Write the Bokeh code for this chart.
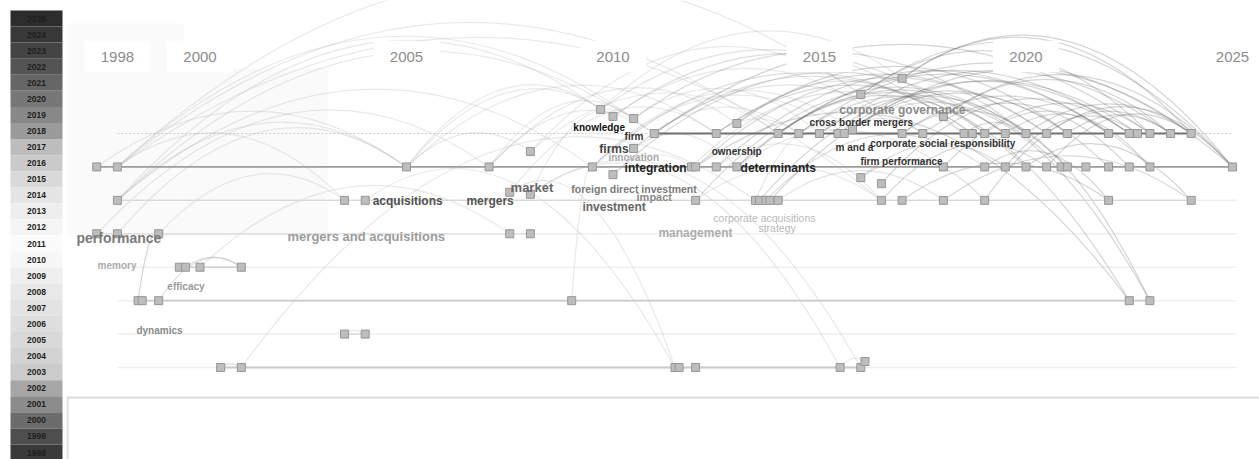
import numpy as np
from bokeh.plotting import figure
from bokeh.layouts import row
from bokeh.models import Range1d, ColumnDataSource
from bokeh.embed import file_html
from bokeh.resources import INLINE
from bokeh.core.properties import value

# ---------------- data ----------------
legend_years = list(range(2025, 1997, -1))
legend_greys = ["#2d2d2d", "#383838", "#444444", "#545454", "#666666", "#777777",
                "#888888", "#9a9a9a", "#bdbdbd", "#cacaca", "#d9d9d9", "#e5e5e5",
                "#eeeeee", "#f5f5f5", "#fbfbfb", "#f7f7f7", "#efefef", "#e8e8e8",
                "#e3e3e3", "#dedede", "#d9d9d9", "#d3d3d3", "#cbcbcb", "#a6a6a6",
                "#8c8c8c", "#6c6c6c", "#4e4e4e", "#3a3a3a"]
axis_years = [1998, 2000, 2005, 2010, 2015, 2020, 2025]

# node years per timeline row (cluster)
years_A = [2011.0, 2012.5, 2014.0, 2014.5, 2015.0, 2015.45, 2015.6, 2017.0, 2017.5,
           2018.5, 2018.7, 2019.0, 2019.5, 2020.0, 2020.5, 2021.0, 2022.0, 2022.5,
           2022.7, 2023.0, 2023.5, 2024.0]
years_B = [1997.5, 1998.0, 2005.0, 2007.0, 2009.5, 2011.9, 2012.0, 2012.5, 2013.0,
           2018.0, 2019.0, 2019.5, 2020.0, 2020.5, 2020.85, 2021.0, 2021.45, 2022.0,
           2022.5, 2023.0, 2025.0]
years_C = [1998.0, 2003.5, 2004.0, 2012.0, 2013.45, 2013.55, 2013.7, 2013.8, 2014.0,
           2016.5, 2017.0, 2018.0, 2019.0, 2022.0, 2024.0]
years_D = [1997.5, 1998.0, 1999.0, 2007.5, 2008.0]
years_E = [1999.5, 1999.65, 2000.0, 2001.0]
years_F = [1998.5, 1998.6, 1999.0, 2009.0, 2022.5, 2023.0]
years_G = [2003.5, 2004.0]
years_H = [2000.5, 2001.0, 2011.5, 2011.6, 2012.0, 2015.5, 2016.0]
# stacked nodes off the cluster lines
extra_years = [2016.1, 2009.7, 2010.0, 2010.5, 2013.0, 2016.0, 2017.0, 2018.0,
               2015.8, 2010.5, 2008.0, 2010.0, 2007.5, 2008.0, 2016.0, 2016.5]
extra_rows = [6.82, -0.72, -0.51, -0.45, -0.30, -1.17, -1.65, -0.51,
              -0.12, 0.45, 0.54, 1.23, 1.76, 1.82, 1.32, 1.50]

links = [
    ("B1", "X3"), ("B1", "A2"), ("B1", "X5"), ("B1", "C9"), ("B1", "C1"),
    ("C0", "X1"), ("C0", "A0"), ("C0", "B4"), ("C0", "B2"),
    ("D1", "B2"), ("D2", "C1"), ("D0", "B3"), ("B0", "B2"),
    ("B2", "X1"), ("B2", "X2"), ("B2", "A1"), ("B2", "X10"),
    ("B3", "X3"), ("B3", "A0"), ("B3", "X4"),
    ("X10", "A2"), ("X10", "X5"), ("X1", "A9"), ("X1", "X6"),
    ("X2", "A11"), ("X2", "A7"), ("X3", "A13"), ("X3", "A4"),
    ("X4", "A15"), ("X4", "X7"), ("X9", "A3"), ("X9", "A8"), ("X11", "A12"),
    ("X12", "A1"), ("X13", "X3"), ("X12", "H2"), ("X13", "H5"), ("X13", "H6"),
    ("B4", "A6"), ("B4", "A10"), ("B4", "X8"), ("B4", "F3"),
    ("B5", "A9"), ("B6", "A14"), ("B6", "F4"), ("B7", "A16"), ("B7", "C9"),
    ("B8", "A12"), ("B8", "A17"), ("B8", "B9"), ("C3", "A13"), ("C3", "C9"),
    ("C4", "A5"), ("C5", "A15"), ("C6", "B10"), ("C7", "A18"), ("C8", "C11"),
    ("A0", "A10"), ("A0", "A19"), ("A1", "A14"), ("A1", "B12"),
    ("A2", "A16"), ("A2", "B14"), ("A2", "F4"), ("A3", "A12"), ("A3", "B20"),
    ("A4", "A20"), ("A4", "B15"), ("A5", "A17"), ("A6", "B17"), ("A6", "F5"),
    ("X8", "A21"), ("X5", "A19"), ("X5", "B20"), ("X6", "A21"), ("X6", "B20"),
    ("X7", "B20"), ("X7", "A20"), ("A7", "B19"), ("A7", "F5"), ("A8", "B18"),
    ("A9", "A13"), ("A11", "A16"), ("A12", "B19"), ("A13", "A21"), ("A14", "B20"),
    ("A15", "A20"), ("B9", "A19"), ("B10", "C13"), ("B11", "A18"), ("B12", "C14"),
    ("B13", "A21"), ("C9", "B13"), ("C10", "C13"), ("C11", "C14"), ("C12", "A20"),
    ("X14", "B11"), ("X15", "A17"), ("X14", "C12"),
    ("E1", "E3"), ("E2", "D3"), ("F2", "E3"), ("F0", "D2"),
    ("H1", "C4"), ("C2", "H2"), ("G0", "G1"), ("H0", "H1"), ("H5", "X0"),
    ("X11", "B5"), ("X9", "B8"), ("A1", "A3"), ("A5", "A8"),
]

label_text = ["performance", "memory", "efficacy", "dynamics", "mergers and acquisitions",
              "acquisitions", "mergers", "market", "knowledge", "firm", "firms",
              "innovation", "integration", "foreign direct investment", "impact",
              "investment", "ownership", "determinants", "management",
              "corporate acquisitions", "strategy", "corporate governance",
              "cross border mergers", "m and a", "corporate social responsibility",
              "firm performance"]

# ---------------- layout / style ----------------
PX_YEAR = 41.3
PX_ROW = 33.43
X_ORIGIN_YEAR = 2005 - 406 / PX_YEAR       # year at page x = 0
Y0_PX = 133                                  # page y of row 0
LEG_W = 66
MAIN_W = 1259 - LEG_W
H = 459

label_x = [1997.01, 1997.52, 1999.21, 1998.46, 2002.12, 2004.18, 2006.45, 2007.52,
           2009.04, 2010.28, 2009.67, 2009.89, 2010.28, 2008.99, 2010.57, 2009.26,
           2012.39, 2013.09, 2011.10, 2012.43, 2013.52, 2015.48, 2014.76, 2015.39,
           2016.23, 2015.99]
label_row = [3.14, 3.95, 4.58, 5.89, 3.08, 2.03, 2.03, 1.62, -0.18, 0.09, 0.45, 0.72,
             1.02, 1.65, 1.91, 2.21, 0.54, 1.02, 2.99, 2.54, 2.84, -0.69, -0.33, 0.42,
             0.30, 0.84]
label_size = [14, 10, 10, 10, 13, 12, 12, 13, 10, 10, 12, 10, 12, 10.5, 11, 12, 10, 12,
              12, 10.5, 10.5, 12, 10, 10, 10, 10]
label_color = ["#7a7a7a", "#ababab", "#9a9a9a", "#8a8a8a", "#9c9c9c", "#505050",
               "#555555", "#666666", "#111111", "#333333", "#444444", "#a8a8a8",
               "#222222", "#7a7a7a", "#8a8a8a", "#666666", "#333333", "#222222",
               "#acacac", "#b8b8b8", "#b8b8b8", "#8a8a8a", "#333333", "#333333",
               "#333333", "#333333"]
label_style = ["bold"] * 19 + ["normal", "normal"] + ["bold"] * 5

FONT = "Liberation Sans"

# ---------------- build nodes ----------------
rows_years = [years_A, years_B, years_C, years_D, years_E, years_F, years_G, years_H]
row_keys = "ABCDEFGH"
nodes = {}
for r, (k, ys) in enumerate(zip(row_keys, rows_years)):
    for i, yv in enumerate(ys):
        nodes[f"{k}{i}"] = (yv, float(r))
for i, (yv, rv) in enumerate(zip(extra_years, extra_rows)):
    nodes[f"X{i}"] = (yv, rv)

x_start = X_ORIGIN_YEAR + LEG_W / PX_YEAR
x_end = X_ORIGIN_YEAR + 1259 / PX_YEAR
y_top = (0 - Y0_PX) / PX_ROW
y_bot = (H - Y0_PX) / PX_ROW

p = figure(width=MAIN_W, height=H, x_range=Range1d(x_start, x_end),
           y_range=Range1d(y_bot, y_top), output_backend="svg",
           toolbar_location=None, min_border=0, x_axis_location=None,
           y_axis_location=None, outline_line_color=None,
           background_fill_color="white", border_fill_color="white")
p.xgrid.visible = False
p.ygrid.visible = False

def px2x(px):
    return X_ORIGIN_YEAR + px / PX_YEAR

def py2r(py):
    return (py - Y0_PX) / PX_ROW

# faint background panels
p.quad(left=[px2x(67), px2x(183)], right=[px2x(183), px2x(327)],
       top=[py2r(23), py2r(68)], bottom=[py2r(236), py2r(236)],
       fill_color="#fafafa", line_color=None)

# faint full-width row guides
for r in range(8):
    if r == 0:
        p.line([1998, 2025], [r, r], line_color="#cccccc", line_width=1,
               line_dash="2 2")
    else:
        p.line([1998, 2025.1], [r, r], line_color="#efefef", line_width=1.5)

# arcs (quadratic curves)
ARC = 0.36 * PX_YEAR / PX_ROW
def grey_for(year):
    idx = int(np.clip(2025 - round(year), 0, len(legend_greys) - 1))
    g = int(legend_greys[idx][1:3], 16)
    g = int(np.clip(g, 0x68, 0xb0))
    return "#%02x%02x%02x" % (g, g, g)

ax0, ay0, ax1, ay1, acx, acy, acol = [], [], [], [], [], [], []
for a, b in links:
    (xa, ra), (xb, rb) = nodes[a], nodes[b]
    ax0.append(xa); ay0.append(ra); ax1.append(xb); ay1.append(rb)
    acx.append((xa + xb) / 2)
    acy.append(min(ra, rb) - ARC * abs(xb - xa))
    acol.append(grey_for(max(xa, xb)))
p.quadratic(x0="x0", y0="y0", x1="x1", y1="y1", cx="cx", cy="cy",
            source=ColumnDataSource(dict(x0=ax0, y0=ay0, x1=ax1, y1=ay1, cx=acx,
                                         cy=acy, c=acol)),
            line_color="c", line_alpha=0.28, line_width=1.2)

# solid cluster timelines
row_line_color = ["#707070", "#9e9e9e", "#d8d8d8", "#dcdcdc", "#c8c8c8", "#cacaca",
                  "#d6d6d6", "#cacaca"]
row_line_width = [1.8, 1.8, 1.3, 1.3, 1.3, 1.8, 1.3, 1.8]
for r, ys in enumerate(rows_years):
    p.line([min(ys), max(ys)], [r, r], line_color=row_line_color[r],
           line_width=row_line_width[r])

# nodes
nx = [v[0] for v in nodes.values()]
ny = [v[1] for v in nodes.values()]
p.scatter(nx, ny, marker="square", size=8, fill_color="#bdbdbd",
          line_color="#979797", line_width=1)

# keyword labels
p.text(x="x", y="y", text="t",
       source=ColumnDataSource(dict(x=label_x, y=label_row, t=label_text,
                                    s=[f"{v}px" for v in label_size],
                                    c=label_color, st=label_style)),
       text_font=value(FONT), text_font_size="s", text_color="c",
       text_font_style="st", text_baseline="middle", text_align="left")

# year labels with white boxes
yl_row = py2r(56)
p.quad(left=[yv - 0.8 for yv in axis_years], right=[yv + 0.8 for yv in axis_years],
       top=[yl_row - 0.47] * len(axis_years), bottom=[yl_row + 0.47] * len(axis_years),
       fill_color="white", line_color=None)
p.text(x=axis_years, y=[yl_row] * len(axis_years), text=[str(v) for v in axis_years],
       text_font=value(FONT), text_font_size="15px", text_color="#8c8c8c",
       text_align="center", text_baseline="middle")

# bottom panel
p.quad(left=[px2x(67)], right=[x_end + 1], top=[py2r(397)], bottom=[y_bot + 1],
       fill_color="white", line_color="#dcdcdc", line_width=2)

# ---------------- year colour legend ----------------
band = (452 - 18) / 27.0                  # px per year band
leg_top = 2025 + 18 / band                # year value at page top
leg_bot = 2025 - (H - 18) / band          # year value at page bottom
lg = figure(width=LEG_W, height=H, x_range=Range1d(0, LEG_W),
            y_range=Range1d(leg_bot, leg_top), output_backend="svg",
            toolbar_location=None, min_border=0, x_axis_location=None,
            y_axis_location=None, outline_line_color=None,
            background_fill_color="white", border_fill_color="white")
lg.xgrid.visible = False
lg.ygrid.visible = False
lg.quad(left=10, right=62, bottom=[y - 0.5 for y in legend_years],
        top=[y + 0.5 for y in legend_years], fill_color=legend_greys, line_color=None)
lg.text(x=[36] * len(legend_years), y=legend_years, text=[str(y) for y in legend_years],
        text_font=value(FONT), text_font_size="8.5px", text_font_style="bold",
        text_color="#1e1e1e", text_align="center", text_baseline="middle")

layout = row(lg, p, spacing=0)
open("out.html", "w").write(file_html(layout, INLINE))
